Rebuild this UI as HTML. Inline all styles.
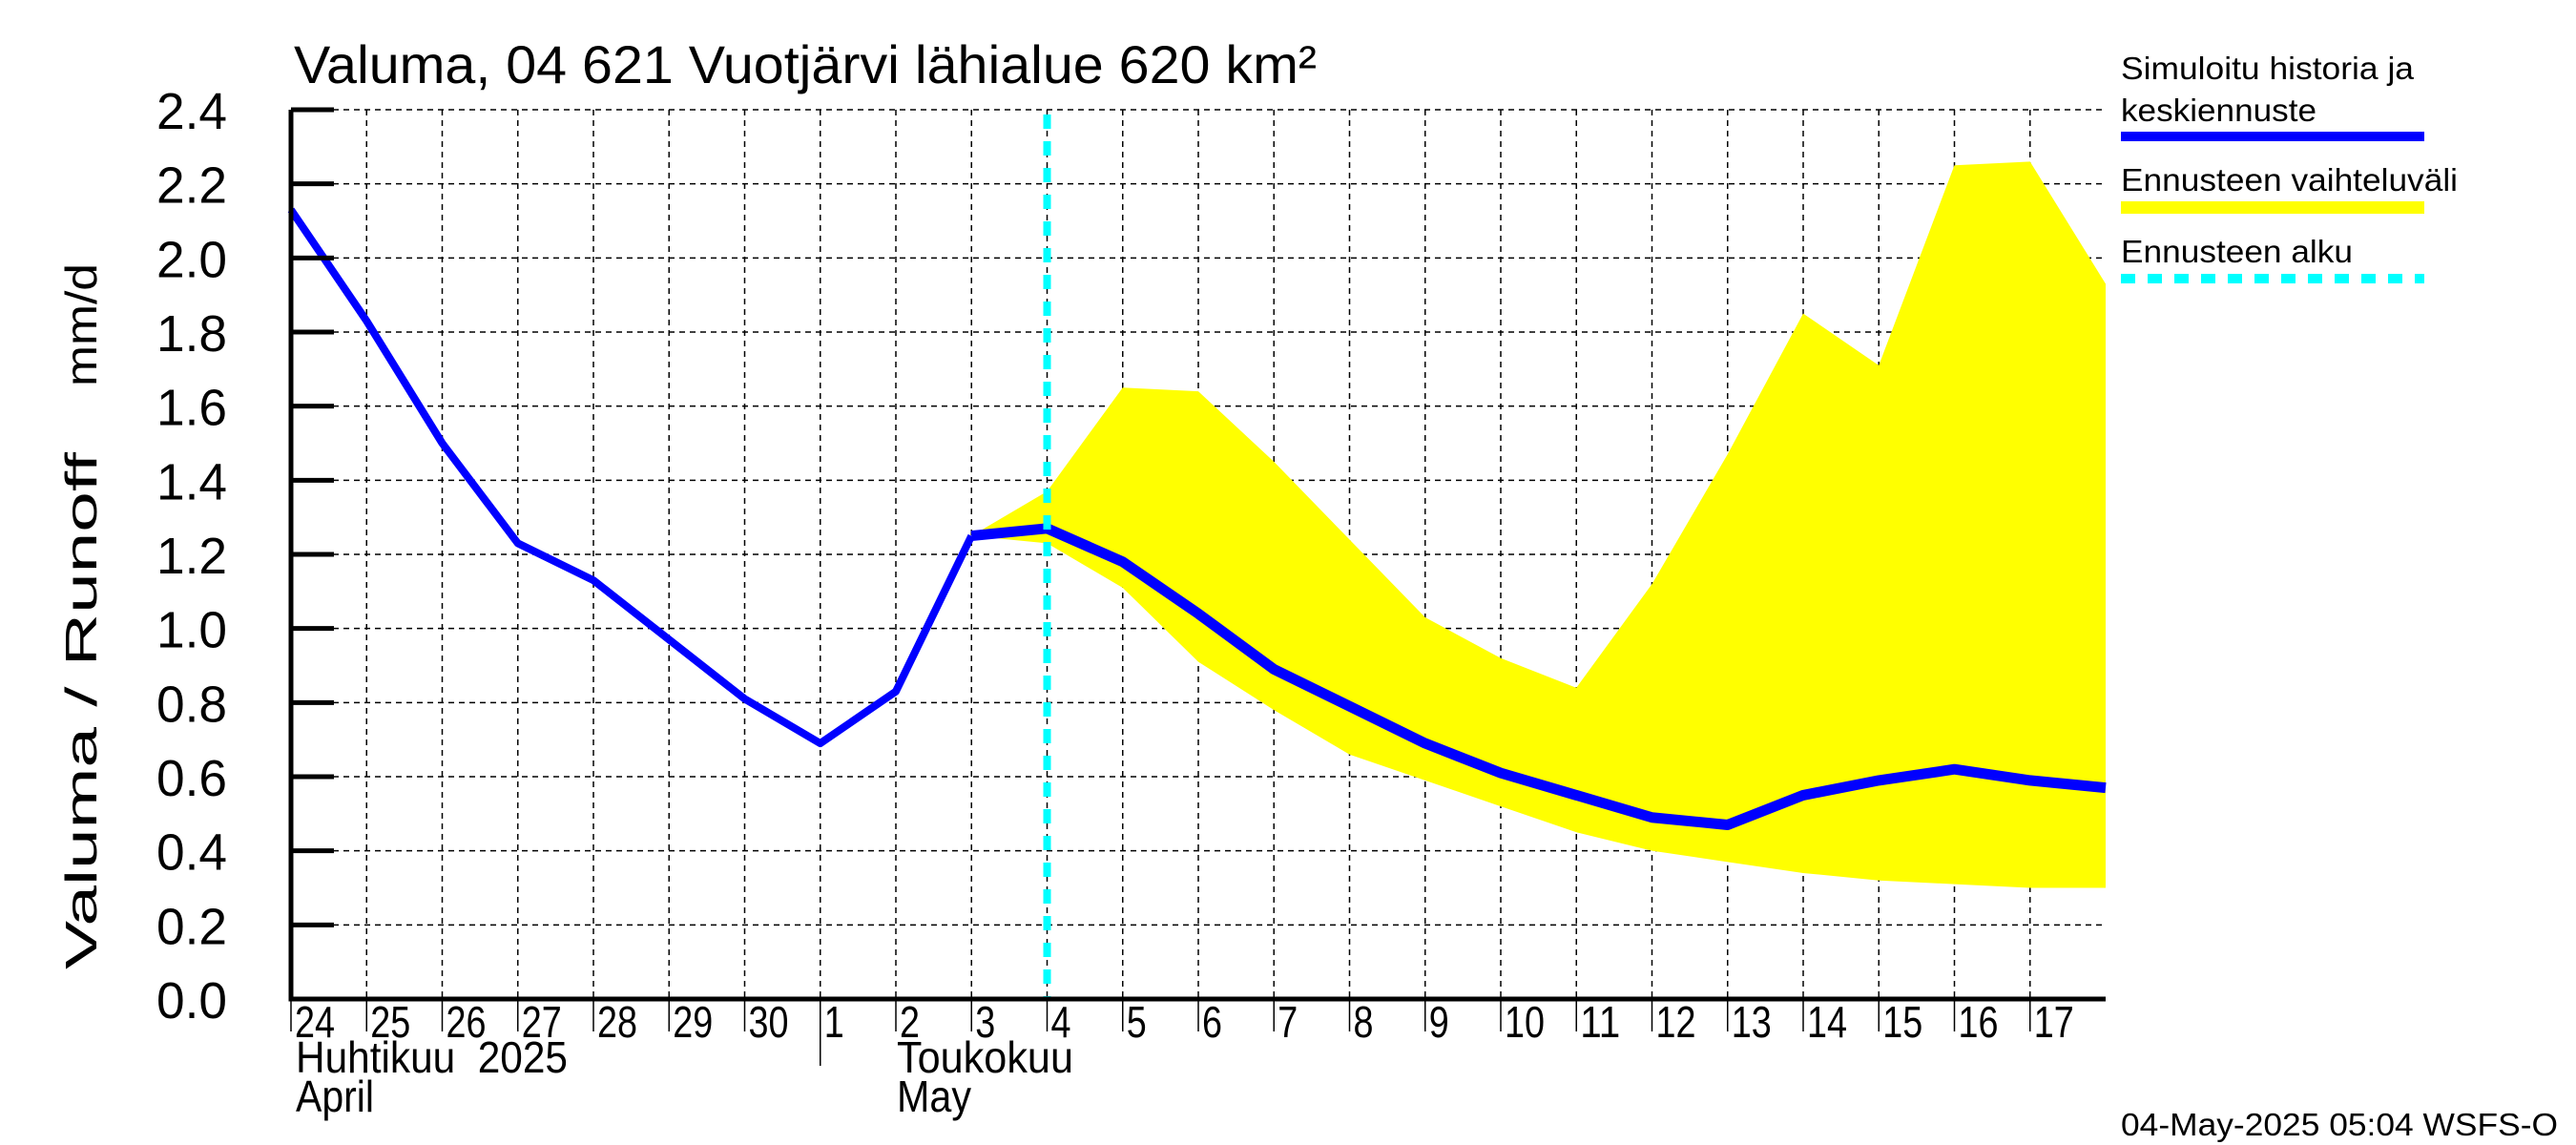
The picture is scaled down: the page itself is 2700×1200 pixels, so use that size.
<!DOCTYPE html>
<html><head><meta charset="utf-8"><style>
html,body{margin:0;padding:0;background:#fff;}
svg{display:block;font-family:"Liberation Sans",sans-serif;}
</style></head><body>
<svg id="chart" width="2700" height="1200" viewBox="0 0 2700 1200" xmlns="http://www.w3.org/2000/svg">
<text x="308" y="87" font-size="56" textLength="1072" lengthAdjust="spacingAndGlyphs">Valuma, 04 621 Vuotjärvi lähialue 620 km²</text>
<text transform="translate(101,1016) rotate(-90)" font-size="46" textLength="542" lengthAdjust="spacingAndGlyphs">Valuma / Runoff</text>
<text transform="translate(101,405) rotate(-90)" font-size="46" textLength="129" lengthAdjust="spacingAndGlyphs">mm/d</text>
<g id="grid"></g><g id="band"></g><g id="lines"></g><g id="axes"></g>
<g>
<text x="2223" y="83" font-size="33" textLength="307" lengthAdjust="spacingAndGlyphs">Simuloitu historia ja</text>
<text x="2223" y="127" font-size="33" textLength="205" lengthAdjust="spacingAndGlyphs">keskiennuste</text>
<rect x="2223" y="138" width="318" height="10" fill="#0000ff"/>
<text x="2223" y="200" font-size="33" textLength="353" lengthAdjust="spacingAndGlyphs">Ennusteen vaihteluväli</text>
<rect x="2223" y="211" width="318" height="13" fill="#ffff00"/>
<text x="2223" y="275" font-size="33" textLength="243" lengthAdjust="spacingAndGlyphs">Ennusteen alku</text>
<line x1="2223" y1="292" x2="2541" y2="292" stroke="#00ffff" stroke-width="10" stroke-dasharray="15 13"/>
</g>
<text x="2223" y="1190" font-size="33" textLength="458" lengthAdjust="spacingAndGlyphs">04-May-2025 05:04 WSFS-O</text>
</svg>
<script>
const dayLabels=["24","25","26","27","28","29","30","1","2","3","4","5","6","7","8","9","10","11","12","13","14","15","16","17"];
const yTicks=[0.0,0.2,0.4,0.6,0.8,1.0,1.2,1.4,1.6,1.8,2.0,2.2,2.4];
const simulated=[2.13,1.83,1.50,1.23,1.13,0.97,0.81,0.69,0.83,1.25,1.27,1.18,1.04,0.89,0.79,0.69,0.61,0.55,0.49,0.47,0.55,0.59,0.62,0.59,0.57];
const bandStart=9;
const bandUpper=[1.25,1.37,1.65,1.64,1.45,1.24,1.03,0.92,0.84,1.12,1.47,1.85,1.71,2.25,2.26,1.93];
const bandLower=[1.25,1.23,1.11,0.91,0.78,0.66,0.59,0.52,0.45,0.40,0.37,0.34,0.32,0.31,0.30,0.30];
const forecastStartIndex=10;
const X0=305,X1=2207,Y0=1047,Y1=115,NDAYS=24,YMAX=2.4;
const xs=i=>X0+i*(X1-X0)/NDAYS;
const ys=v=>Y0-v*(Y0-Y1)/YMAX;
const NS="http://www.w3.org/2000/svg";
function mk(tag,attrs,parent){const e=document.createElementNS(NS,tag);for(const k in attrs)e.setAttribute(k,attrs[k]);parent.appendChild(e);return e;}
const grid=document.getElementById('grid'),band=document.getElementById('band'),lines=document.getElementById('lines'),axes=document.getElementById('axes');
yTicks.forEach(v=>{if(v===0)return;
 const g=mk('line',{x1:X0,x2:X1,y1:ys(v),y2:ys(v),stroke:'#000','stroke-width':1.5,'stroke-dasharray':'6 5'},grid);
 
 });
dayLabels.forEach((d,i)=>{if(i===0)return;
 const g=mk('line',{x1:xs(i),x2:xs(i),y1:Y1,y2:Y0,stroke:'#000','stroke-width':1.5,'stroke-dasharray':'6 5'},grid);
 
 });
let pts=[];bandUpper.forEach((v,i)=>pts.push(xs(bandStart+i)+','+ys(v)));
for(let i=bandLower.length-1;i>=0;i--)pts.push(xs(bandStart+i)+','+ys(bandLower[i]));
const poly=mk('polygon',{points:pts.join(' '),fill:'#ffff00'},band);


const hist=simulated.slice(0,bandStart+1).map((v,i)=>xs(i)+','+ys(v)).join(' ');
const h=mk('polyline',{points:hist,fill:'none',stroke:'#0000ff','stroke-width':8,'stroke-linejoin':'round'},lines);


const fc=simulated.slice(bandStart).map((v,i)=>xs(bandStart+i)+','+ys(v)).join(' ');
const f=mk('polyline',{points:fc,fill:'none',stroke:'#0000ff','stroke-width':11,'stroke-linejoin':'round'},lines);


const fl=mk('line',{x1:xs(forecastStartIndex),x2:xs(forecastStartIndex),y1:Y1+5,y2:Y0,stroke:'#00ffff','stroke-width':8,'stroke-dasharray':'15 13'},lines);


const ax=mk('path',{d:`M${X0},${Y1} L${X0},${Y0} L${X1},${Y0}`,fill:'none',stroke:'#000','stroke-width':5},axes);


yTicks.forEach(v=>{
 const t=mk('line',{x1:X0,x2:X0+45,y1:ys(v),y2:ys(v),stroke:'#000','stroke-width':5},axes);
 
 
 const l=mk('text',{x:238,y:ys(v)+20,'text-anchor':'end','font-size':54,textLength:74,lengthAdjust:'spacingAndGlyphs'},axes);
 l.textContent=v.toFixed(1);
 
 });
dayLabels.forEach((d,i)=>{
 const t=mk('line',{x1:xs(i),x2:xs(i),y1:Y0,y2:Y0+34,stroke:'#000','stroke-width':1.5},axes);
 
 
 const l=mk('text',{x:xs(i)+4,y:Y0+40,'font-size':46,textLength:d.length*21,lengthAdjust:'spacingAndGlyphs'},axes);
 l.textContent=d;
 
 });
const sep=mk('line',{x1:xs(7),x2:xs(7),y1:Y0,y2:Y0+70,stroke:'#000','stroke-width':1.5},axes);


[["Huhtikuu  2025",310,1124,285],["April",310,1165,82],["Toukokuu",940,1124,185],["May",940,1165,78]].forEach(a=>{
 const l=mk('text',{x:a[1],y:a[2],'font-size':46,textLength:a[3],lengthAdjust:'spacingAndGlyphs'},axes);
 l.setAttributeNS('http://www.w3.org/XML/1998/namespace','xml:space','preserve');
 l.textContent=a[0];
 
 });
</script>
</body></html>
